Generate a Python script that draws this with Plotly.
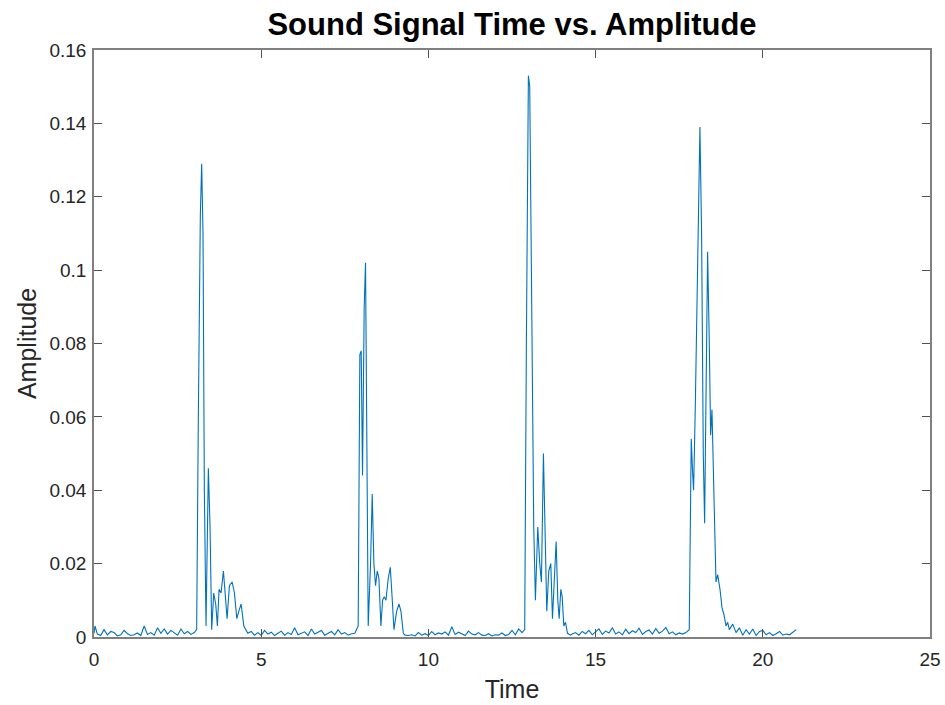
import plotly.graph_objects as go

# Quiet segment 0 - 3.0 s
t_quiet1 = [0.0, 0.03, 0.1, 0.2, 0.3, 0.4, 0.5, 0.6, 0.7, 0.8, 0.9, 1.0, 1.1, 1.2, 1.3, 1.4, 1.5,
            1.6, 1.7, 1.8, 1.9, 2.0, 2.1, 2.2, 2.3, 2.4, 2.5, 2.6, 2.7, 2.8, 2.9, 3.0]
a_quiet1 = [0.001, 0.003, 0.0008, 0.0004, 0.002, 0.0006, 0.0015, 0.0012, 0.0003, 0.0006, 0.0018, 0.0009,
            0.0004, 0.0006, 0.0011, 0.0004, 0.003, 0.0007, 0.0012, 0.0005, 0.0025, 0.001, 0.0022, 0.0008,
            0.0018, 0.0012, 0.0005, 0.0022, 0.0009, 0.0015, 0.0007, 0.0012]

# Burst 1
t_burst1 = [3.07, 3.12, 3.18, 3.22, 3.26, 3.3, 3.35, 3.42, 3.47, 3.52, 3.58, 3.64, 3.69, 3.74, 3.8,
            3.87, 3.93, 3.98, 4.05, 4.13, 4.2, 4.27, 4.33, 4.4, 4.48, 4.55, 4.6]
a_burst1 = [0.002, 0.06, 0.115, 0.129, 0.11, 0.04, 0.003, 0.046, 0.03, 0.002, 0.012, 0.009, 0.003, 0.013,
            0.012, 0.018, 0.01, 0.005, 0.014, 0.015, 0.012, 0.005, 0.007, 0.009, 0.003, 0.002, 0.001]

# Quiet segment 2
t_quiet2 = [4.7, 4.8, 4.9, 5.0, 5.1, 5.2, 5.3, 5.4, 5.5, 5.6, 5.7, 5.8, 5.9, 6.0, 6.1, 6.2, 6.3,
            6.4, 6.5, 6.6, 6.7, 6.8, 6.9, 7.0, 7.1, 7.2, 7.3, 7.4, 7.5, 7.6, 7.7, 7.8]
a_quiet2 = [0.0015, 0.0005, 0.0012, 0.0004, 0.0018, 0.0008, 0.0013, 0.0004, 0.001, 0.0016, 0.0005,
            0.0012, 0.0007, 0.0025, 0.0006, 0.0009, 0.0014, 0.0004, 0.0022, 0.0008, 0.0012, 0.0018,
            0.0005, 0.001, 0.0015, 0.0006, 0.002, 0.0008, 0.0012, 0.0005, 0.0009, 0.001]

# Burst 2
t_burst2 = [7.9, 7.95, 7.99, 8.03, 8.08, 8.12, 8.16, 8.2, 8.27, 8.32, 8.37, 8.42, 8.47, 8.52, 8.58,
            8.63, 8.68, 8.73, 8.8, 8.86, 8.92, 8.97, 9.05, 9.12, 9.18, 9.25, 9.3]
a_burst2 = [0.003, 0.077, 0.078, 0.044, 0.09, 0.102, 0.06, 0.003, 0.02, 0.039, 0.02, 0.014, 0.018,
            0.016, 0.003, 0.01, 0.011, 0.01, 0.016, 0.019, 0.01, 0.002, 0.007, 0.009, 0.007, 0.001, 0.0005]

# Quiet segment 3
t_quiet3 = [9.4, 9.5, 9.6, 9.7, 9.8, 9.9, 10.0, 10.1, 10.2, 10.3, 10.4, 10.5, 10.6, 10.7, 10.8, 10.9,
            11.0, 11.1, 11.2, 11.3, 11.4, 11.5, 11.6, 11.7, 11.8, 11.9, 12.0, 12.1, 12.2, 12.3, 12.4,
            12.5, 12.6, 12.7, 12.8, 12.88]
a_quiet3 = [0.0004, 0.0006, 0.0003, 0.0012, 0.0005, 0.0009, 0.0004, 0.0015, 0.0006, 0.0011, 0.0008,
            0.0014, 0.0005, 0.0028, 0.0007, 0.0013, 0.0009, 0.0004, 0.0016, 0.0008, 0.0006, 0.0012,
            0.0005, 0.0004, 0.0009, 0.0003, 0.0006, 0.0005, 0.0011, 0.0004, 0.0007, 0.0018, 0.0006,
            0.0022, 0.0012, 0.002]

# Burst 3
t_burst3 = [12.93, 12.99, 13.03, 13.08, 13.15, 13.2, 13.27, 13.33, 13.38, 13.44, 13.48, 13.54, 13.6,
            13.66, 13.71, 13.77, 13.82, 13.87, 13.91, 13.96, 14.0, 14.05, 14.1, 14.16, 14.25]
a_burst3 = [0.08, 0.153, 0.15, 0.09, 0.03, 0.01, 0.03, 0.02, 0.015, 0.05, 0.03, 0.007, 0.018, 0.02,
            0.005, 0.016, 0.026, 0.01, 0.005, 0.013, 0.011, 0.003, 0.004, 0.001, 0.0005]

# Quiet segment 4
t_quiet4 = [14.3, 14.4, 14.5, 14.6, 14.7, 14.8, 14.9, 15.0, 15.1, 15.2, 15.3, 15.4, 15.5, 15.6, 15.7,
            15.8, 15.9, 16.0, 16.1, 16.2, 16.3, 16.4, 16.5, 16.6, 16.7, 16.8, 16.9, 17.0, 17.1, 17.2,
            17.3, 17.4, 17.5, 17.6, 17.7, 17.8]
a_quiet4 = [0.0008, 0.0012, 0.0005, 0.0015, 0.0009, 0.0018, 0.0006, 0.0013, 0.0022, 0.0007, 0.0016,
            0.0011, 0.0025, 0.0008, 0.0014, 0.0006, 0.0021, 0.0009, 0.0017, 0.0012, 0.0024, 0.0007,
            0.0015, 0.0019, 0.0008, 0.0023, 0.001, 0.0016, 0.0026, 0.0009, 0.0014, 0.0006, 0.0011,
            0.0008, 0.0012, 0.002]

# Burst 4
t_burst4 = [17.86, 17.9, 17.93, 17.98, 18.05, 18.12, 18.17, 18.22, 18.26, 18.3, 18.35, 18.4, 18.44,
            18.48, 18.53, 18.6, 18.65, 18.72, 18.78, 18.84, 18.9, 18.95, 19.0]
a_burst4 = [0.054, 0.045, 0.04, 0.062, 0.1, 0.139, 0.11, 0.05, 0.031, 0.06, 0.105, 0.08, 0.055, 0.062,
            0.04, 0.015, 0.017, 0.013, 0.008, 0.006, 0.003, 0.004, 0.002]

# Quiet segment 5 (end)
t_quiet5 = [19.1, 19.2, 19.3, 19.4, 19.5, 19.6, 19.7, 19.8, 19.9, 20.0, 20.1, 20.2, 20.3, 20.4, 20.5,
            20.6, 20.7, 20.8, 20.9, 21.0]
a_quiet5 = [0.0035, 0.0012, 0.0025, 0.0005, 0.002, 0.0008, 0.0022, 0.0004, 0.0015, 0.0018, 0.0006,
            0.0012, 0.0004, 0.0009, 0.0015, 0.0005, 0.0008, 0.0006, 0.0012, 0.002]

y_tick_vals = [0, 0.02, 0.04, 0.06, 0.08, 0.1, 0.12, 0.14, 0.16]
y_tick_text = ["0", "0.02", "0.04", "0.06", "0.08", "0.1", "0.12", "0.14", "0.16"]
x_tick_vals = [0, 5, 10, 15, 20, 25]

time = t_quiet1 + t_burst1 + t_quiet2 + t_burst2 + t_quiet3 + t_burst3 + t_quiet4 + t_burst4 + t_quiet5
amp = a_quiet1 + a_burst1 + a_quiet2 + a_burst2 + a_quiet3 + a_burst3 + a_quiet4 + a_burst4 + a_quiet5

FONT = "Liberation Sans, Arial, Helvetica"

fig = go.Figure()
fig.add_trace(go.Scatter(x=time, y=amp, mode="lines",
                         line=dict(color="#0072BD", width=1.1), showlegend=False))

axis_common = dict(showgrid=False, zeroline=False, showline=True, mirror="ticks",
                   linecolor="#808080", linewidth=1.5, ticks="inside", ticklen=8,
                   tickcolor="#505050", tickwidth=1, automargin=False,
                   tickfont=dict(family=FONT, size=19, color="#262626"))

fig.update_layout(
    width=945, height=705,
    margin=dict(l=94, r=15, t=50, b=68),
    paper_bgcolor="white", plot_bgcolor="white",
    title=dict(text="<b>Sound Signal Time vs. Amplitude</b>", x=(94 + 930) / 2 / 945, xanchor="center",
               y=1 - 24 / 705, yanchor="middle",
               font=dict(family=FONT, size=31, color="black")),
    xaxis=dict(range=[0, 25], tickvals=x_tick_vals, ticklabelstandoff=4,
               title=dict(text="Time", standoff=12,
                          font=dict(family=FONT, size=25, color="#262626")),
               **axis_common),
    yaxis=dict(range=[0, 0.16], tickvals=y_tick_vals, ticktext=y_tick_text, ticklabelstandoff=2,
               title=dict(text="Amplitude", standoff=6,
                          font=dict(family=FONT, size=25, color="#262626")),
               **axis_common),
)

fig.write_html("out.html")
